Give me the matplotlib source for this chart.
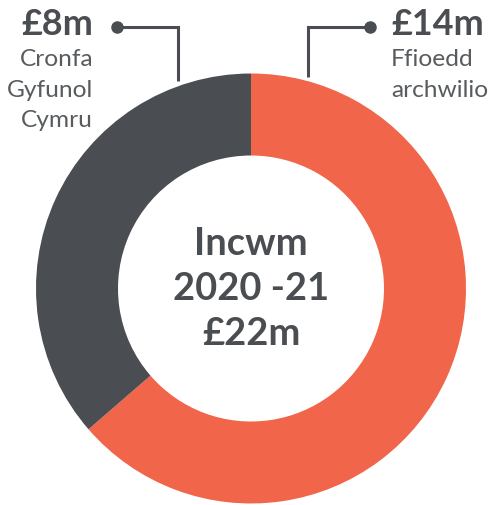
import matplotlib
matplotlib.use("Agg")
import matplotlib.pyplot as plt

# Data
categories = ["Ffioedd archwilio", "Cronfa Gyfunol Cymru"]
values = [14, 8]
value_labels = ["£14m", "£8m"]
center_lines = ["Incwm", "2020 -21", "£22m"]

ORANGE = "#F1654A"
DARK = "#4A4D51"
TEXT_LIGHT = "#595C5F"

W, H = 494, 506
fig = plt.figure(figsize=(W / 100, H / 100), dpi=100)
ax = fig.add_axes([0, 0, 1, 1])

def Y(ypx):
    return H - ypx

cx, cy = 251, Y(289.5)
R, width = 215, 82
ax.pie(values, colors=[ORANGE, DARK], startangle=90, counterclock=False,
       radius=R, center=(cx, cy), wedgeprops=dict(width=width, linewidth=0),
       frame=True)
ax.set_xlim(0, W)
ax.set_ylim(0, H)
ax.set_aspect("equal")
ax.axis("off")

def px(p):
    return p * 0.72

bold_font = ["Lato", "DejaVu Sans"]
light_font = ["Lato", "DejaVu Sans"]

# Center text
for txt, yb in zip(center_lines, [255, 300, 345]):
    ax.text(251, Y(yb), txt, ha="center", va="baseline", fontsize=px(38),
            fontweight="bold", color=DARK, family=bold_font)

# Left label (Cronfa Gyfunol Cymru)
ax.text(93, Y(35), value_labels[1], ha="right", va="baseline", fontsize=px(36),
        fontweight="bold", color=DARK, family=bold_font)
for txt, yb in zip(["Cronfa", "Gyfunol", "Cymru"], [66, 97, 127]):
    ax.text(93, Y(yb), txt, ha="right", va="baseline", fontsize=px(24.5),
            fontweight="normal", color=TEXT_LIGHT, family=light_font)

# Right label (Ffioedd archwilio)
ax.text(391, Y(35), value_labels[0], ha="left", va="baseline", fontsize=px(36),
        fontweight="bold", color=DARK, family=bold_font)
for txt, yb in zip(["Ffioedd", "archwilio"], [66, 97]):
    ax.text(391, Y(yb), txt, ha="left", va="baseline", fontsize=px(24.5),
            fontweight="normal", color=TEXT_LIGHT, family=light_font)

# Leader lines
ax.plot([117, 178, 178], [Y(28), Y(28), Y(82)], color=DARK, lw=2.2,
        solid_joinstyle="miter", solid_capstyle="butt")
ax.plot([117], [Y(28)], "o", color=DARK, ms=8)
ax.plot([370, 308, 308], [Y(28), Y(28), Y(78)], color=DARK, lw=2.2,
        solid_joinstyle="miter", solid_capstyle="butt")
ax.plot([370], [Y(28)], "o", color=DARK, ms=8)

fig.savefig("out.png", dpi=100, facecolor="white")
